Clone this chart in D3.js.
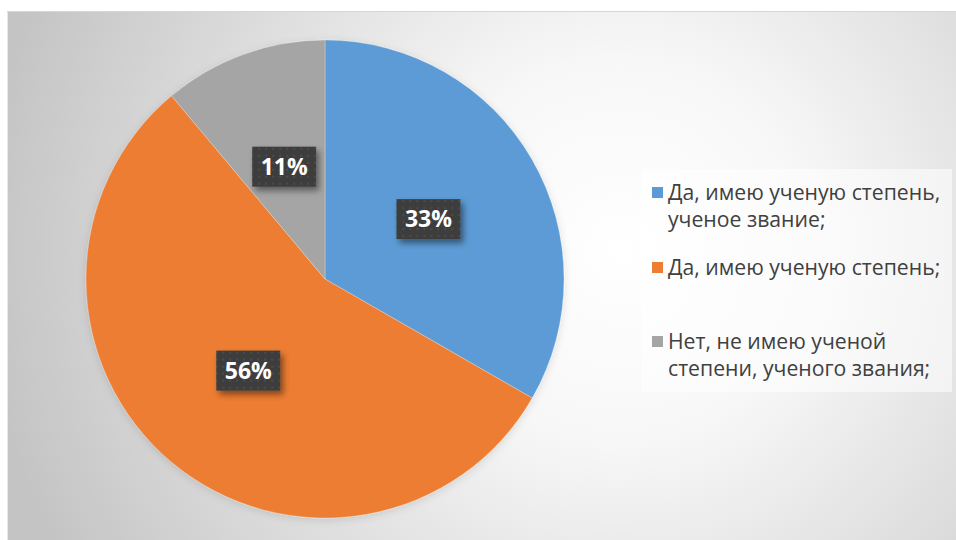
<!DOCTYPE html>
<html><head><meta charset="utf-8">
<script src="https://cdn.jsdelivr.net/npm/d3@7/dist/d3.min.js"></script>
<style>html,body{margin:0;padding:0;background:#fff;}svg{display:block;}</style>
</head><body>
<svg id="chart" width="956" height="540"></svg>
<script>
// ---- data ----
const categories = [
  "Да, имею ученую степень, ученое звание;",
  "Да, имею ученую степень;",
  "Нет, не имею ученой степени, ученого звания;"
];
const legendLines = [
  ["Да, имею ученую степень,", "ученое звание;"],
  ["Да, имею ученую степень;"],
  ["Нет, не имею ученой", "степени, ученого звания;"]
];
const values = [33.3, 55.6, 11.1];
const colors = ["#5B9BD5", "#ED7D31", "#A5A5A5"];

// ---- layout ----
const W = 956, H = 540;
const frame = {x: 7, y: 11, w: 949, h: 529};
const cx = 325, cy = 279, R = 239;

const svg = d3.select("#chart");
const defs = svg.append("defs");

const grad = defs.append("radialGradient").attr("id", "bg")
  .attr("gradientUnits", "userSpaceOnUse")
  .attr("cx", 620).attr("cy", 250).attr("r", 640);
grad.append("stop").attr("offset", 0).attr("stop-color", "#ffffff");
grad.append("stop").attr("offset", 0.3).attr("stop-color", "#f7f7f7");
grad.append("stop").attr("offset", 1).attr("stop-color", "#c4c4c4");

const pat = defs.append("pattern").attr("id", "dots")
  .attr("patternUnits", "userSpaceOnUse").attr("width", 7).attr("height", 7);
pat.append("rect").attr("width", 7).attr("height", 7).attr("fill", "#3d3d3d");
pat.append("rect").attr("x", 2).attr("y", 2).attr("width", 2).attr("height", 2).attr("fill", "#4c4c4c");

const sh = defs.append("filter").attr("id", "shadow")
  .attr("x", "-20%").attr("y", "-20%").attr("width", "150%").attr("height", "160%");
sh.append("feDropShadow").attr("dx", 3).attr("dy", 4).attr("stdDeviation", 3)
  .attr("flood-color", "#000").attr("flood-opacity", 0.45);

const pieSh = defs.append("filter").attr("id", "pieshadow")
  .attr("x", "-10%").attr("y", "-10%").attr("width", "120%").attr("height", "120%");
pieSh.append("feDropShadow").attr("dx", 0).attr("dy", 2).attr("stdDeviation", 4)
  .attr("flood-color", "#000").attr("flood-opacity", 0.12);

// background frame
svg.append("rect").attr("x", frame.x).attr("y", frame.y)
  .attr("width", frame.w).attr("height", frame.h)
  .attr("fill", "url(#bg)");
svg.append("line").attr("x1", frame.x + 0.5).attr("x2", frame.x + 0.5)
  .attr("y1", frame.y).attr("y2", H).attr("stroke", "#e8e8e8");
svg.append("line").attr("x1", frame.x).attr("x2", W)
  .attr("y1", frame.y + 0.5).attr("y2", frame.y + 0.5).attr("stroke", "#d6d6d6");

// pie
const pie = d3.pie().sort(null).value(d => d)(values);
const arc = d3.arc().innerRadius(0).outerRadius(R);
const labelArc = d3.arc().innerRadius(R * 0.5).outerRadius(R * 0.5);

const g = svg.append("g").attr("transform", `translate(${cx},${cy})`);
g.append("g").attr("filter", "url(#pieshadow)")
  .selectAll("path").data(pie).join("path")
  .attr("d", arc)
  .attr("fill", (d, i) => colors[i])
  .attr("stroke", "rgba(255,255,255,0.35)")
  .attr("stroke-width", 0.75);

// data labels
const total = d3.sum(values);
const fmt = d => Math.round(d.value / total * 100) + "%";
const lbl = g.selectAll("g.lbl").data(pie).join("g").attr("class", "lbl")
  .attr("transform", d => `translate(${labelArc.centroid(d)})`);
lbl.append("rect")
  .attr("x", -32).attr("y", -20).attr("width", 64).attr("height", 40)
  .attr("fill", "url(#dots)")
  .attr("filter", "url(#shadow)");
lbl.append("text")
  .attr("text-anchor", "middle").attr("dy", "0.36em")
  .attr("fill", "#ffffff")
  .attr("font-family", "'Open Sans', 'DejaVu Sans', sans-serif")
  .attr("font-weight", 700).attr("font-size", 23)
  .text(fmt);

// legend
const lg = svg.append("g");
lg.append("rect").attr("x", 641).attr("y", 169).attr("width", 311).attr("height", 223)
  .attr("fill", "#ffffff").attr("fill-opacity", 0.55);
const itemY = [193, 268, 342];
const lineH = 27;
const items = lg.selectAll("g.item").data(categories).join("g").attr("class", "item")
  .attr("transform", (d, i) => `translate(652,${itemY[i]})`);
items.append("rect").attr("x", 0).attr("y", -6).attr("width", 11).attr("height", 11)
  .attr("fill", (d, i) => colors[i]);
items.each(function(d, i) {
  const t = d3.select(this).append("text")
    .attr("fill", "#404040")
    .attr("font-family", "'Open Sans', 'Noto Sans', sans-serif")
    .attr("font-size", 21.2);
  legendLines[i].forEach((ln, j) => {
    t.append("tspan").attr("x", 16).attr("y", j * lineH).attr("dy", "0.35em").text(ln);
  });
});
</script>
</body></html>
